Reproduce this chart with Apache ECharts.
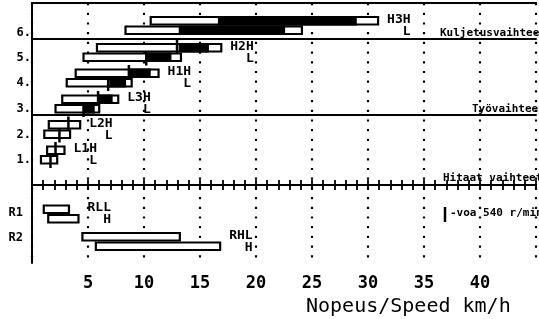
<!DOCTYPE html>
<html>
<head>
<meta charset="utf-8">
<script src="https://cdn.jsdelivr.net/npm/echarts@6/dist/echarts.min.js"></script>
<style>
html, body { margin: 0; padding: 0; background: #fff; }
#chart { width: 539px; height: 319px; }
</style>
</head>
<body>
<div id="chart"></div>
<script>
// gears, bottom forward gear first, then reverse
var rowNames = ['1.', '2.', '3.', '4.', '5.', '6.', 'R1', 'R2'];
var gearTags = ['L1', 'L2', 'L3', 'H1', 'H2', 'H3', 'RL', 'RH'];
var upperTag = ['H', 'H', 'H', 'H', 'H', 'H', 'L', 'L'];
var lowerTag = ['L', 'L', 'L', 'L', 'L', 'L', 'H', 'H'];

// upper bar of each gear, km/h
var upStart      = [1.35, 1.5, 2.7, 3.9, 5.8, 10.6, 1.05, 4.5];
var upEnd        = [2.9, 4.3, 7.7, 11.3, 16.9, 30.9, 3.3, 13.2];
var upBlackStart = [null, null, 5.9, 8.7, 13.1, 16.6, null, null];
var upBlackEnd   = [null, null, 7.2, 10.6, 15.8, 29.0, null, null];
var upPto        = [2.1, 3.25, 5.9, 8.65, 12.95, null, null, null];

// lower bar of each gear, km/h
var loStart      = [0.8, 1.1, 2.1, 3.1, 4.6, 8.35, 1.45, 5.7];
var loEnd        = [2.25, 3.4, 6.0, 8.9, 13.3, 24.1, 4.15, 16.8];
var loBlackStart = [null, null, 4.6, 6.9, 10.2, 13.1, null, null];
var loBlackEnd   = [null, null, 5.6, 8.4, 12.45, 22.6, null, null];
var loPto        = [1.65, 2.45, 4.6, 6.8, 10.2, null, null, null];

var xTicks = [5, 10, 15, 20, 25, 30, 35, 40];

// layout (y axis runs in pixels from the top of the frame)
var rowY = [152, 126.5, 101, 75, 49.5, 22.5, 211, 238.5];
var rowLabelShift = [5, 5, 5, 5, 5, 7, -1, -4];
var barH = 7.5;
var mono = '"DejaVu Sans Mono", monospace';

var chart = echarts.init(document.getElementById('chart'));

function renderGear(params, api) {
    var i = params.dataIndex;
    var c = api.coord([0, rowY[i]])[1];
    var kids = [];

    function bar(s, e, bs, be, pto, top, mTop, mBot) {
        var x0 = api.coord([s, 0])[0];
        var x1 = api.coord([e, 0])[0];
        kids.push({
            type: 'rect',
            shape: { x: x0, y: top, width: x1 - x0, height: barH },
            style: { fill: '#fff', stroke: '#000', lineWidth: 2.2 }
        });
        if (bs != null) {
            var b0 = api.coord([bs, 0])[0];
            var b1 = api.coord([be, 0])[0];
            kids.push({
                type: 'rect',
                shape: { x: b0, y: top - 1, width: b1 - b0, height: barH + 2 },
                style: { fill: '#000' }
            });
        }
        if (pto != null) {
            var px = api.coord([pto, 0])[0];
            kids.push({
                type: 'line',
                shape: { x1: px, y1: mTop, x2: px, y2: mBot },
                style: { stroke: '#000', lineWidth: 2.5 }
            });
        }
    }

    bar(upStart[i], upEnd[i], upBlackStart[i], upBlackEnd[i], upPto[i], c - 8.5, c - 13, c + 1);
    bar(loStart[i], loEnd[i], loBlackStart[i], loBlackEnd[i], loPto[i], c + 1, c - 1, c + 13);

    var tx = api.coord([Math.max(upEnd[i], loEnd[i]), 0])[0] + 9;
    kids.push({
        type: 'text',
        x: tx, y: c,
        style: {
            text: gearTags[i] + upperTag[i] + '\n  ' + lowerTag[i],
            font: 'bold 13px ' + mono,
            lineHeight: 12,
            fill: '#000',
            align: 'left',
            verticalAlign: 'middle'
        }
    });

    var isRev = rowNames[i].charAt(0) === 'R';
    kids.push({
        type: 'text',
        x: isRev ? 23 : 31, y: c + rowLabelShift[i],
        style: {
            text: rowNames[i],
            font: 'bold 12px ' + mono,
            fill: '#000',
            align: 'right',
            verticalAlign: 'middle'
        }
    });

    return { type: 'group', children: kids };
}

function plainAxis(pos, offset) {
    return {
        type: 'value', min: 0, max: 45, interval: 5,
        position: pos, offset: offset,
        axisLine: { show: true, lineStyle: { color: '#000', width: 2 } },
        axisTick: { show: false },
        axisLabel: { show: false },
        splitLine: { show: false }
    };
}

function tickAxis(inside) {
    return {
        type: 'value', min: 0, max: 45, interval: 1,
        position: 'top', offset: -182,
        axisLine: { show: true, lineStyle: { color: '#000', width: 2 } },
        axisTick: { show: true, inside: inside, length: 5, lineStyle: { color: '#000', width: 1.8 } },
        axisLabel: { show: false },
        splitLine: { show: false }
    };
}

var option = {
    animation: false,
    backgroundColor: '#fff',
    grid: { left: 32, top: 3, width: 510, height: 260 },
    xAxis: [
        {
            type: 'value', min: 0, max: 45, interval: 5, position: 'bottom',
            axisLine: { show: true, lineStyle: { color: '#000', width: 2 } },
            axisTick: { show: false },
            axisLabel: {
                margin: 12,
                color: '#000',
                fontFamily: mono,
                fontWeight: 'bold',
                fontSize: 17,
                formatter: function (v) { return xTicks.indexOf(v) >= 0 ? String(v) : ''; }
            },
            splitLine: { show: true, lineStyle: { color: '#000', width: 2.2, type: [2.2, 7.5] } }
        },
        plainAxis('top', 0),
        plainAxis('top', -36),
        plainAxis('top', -112),
        tickAxis(false),
        tickAxis(true)
    ],
    yAxis: {
        type: 'value', min: 0, max: 260, inverse: true,
        axisLine: { show: true, lineStyle: { color: '#000', width: 2 } },
        axisTick: { show: false },
        axisLabel: { show: false },
        splitLine: { show: false }
    },
    series: [{
        type: 'custom',
        renderItem: renderGear,
        clip: false,
        encode: { x: 0, y: 1 },
        data: upStart.map(function (v, i) { return [v, i]; })
    }],
    graphic: [
        { type: 'text', left: 440, top: 28, style: { text: 'Kuljetusvaihteet', font: 'bold 11px ' + mono, fill: '#000' } },
        { type: 'text', left: 472, top: 104, style: { text: 'Työvaihteet', font: 'bold 11px ' + mono, fill: '#000' } },
        { type: 'text', left: 443, top: 173, style: { text: 'Hitaat vaihteet', font: 'bold 11px ' + mono, fill: '#000' } },
        { type: 'line', shape: { x1: 445, y1: 207, x2: 445, y2: 222 }, style: { stroke: '#000', lineWidth: 2.5 } },
        { type: 'text', left: 450, top: 208, style: { text: '-voa 540 r/min', font: 'bold 11px ' + mono, fill: '#000' } },
        { type: 'text', left: 306, top: 297, style: { text: 'Nopeus/Speed km/h', font: '20px ' + mono, fill: '#000' } }
    ]
};

chart.setOption(option);
</script>
</body>
</html>
